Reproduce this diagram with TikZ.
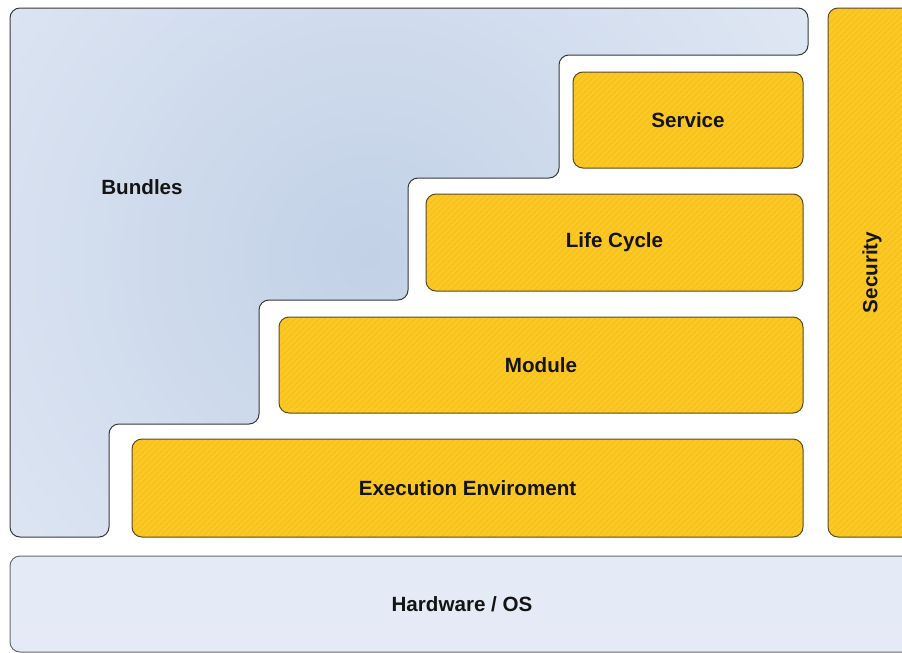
\documentclass[tikz,border=0pt]{standalone}
\usepackage{fontspec}
\setmainfont{Liberation Sans}
\usetikzlibrary{patterns.meta}

\definecolor{bundlelight}{HTML}{E6ECF6}
\definecolor{bundledark}{HTML}{C2D1E7}
\definecolor{bundleedge}{HTML}{3A3A3A}
\definecolor{layerfill}{HTML}{FCC823}
\definecolor{layerstripe}{HTML}{F3BD1C}
\definecolor{layeredge}{HTML}{5A4A22}
\definecolor{hwfill}{HTML}{E4EBF6}
\definecolor{hwedge}{HTML}{6A6A6A}
\definecolor{labeltext}{HTML}{141414}

\tikzset{
  labelfont/.style={font=\fontsize{20.6}{23}\selectfont\bfseries, text=labeltext},
  layer/.style={labelfont, draw=layeredge, line width=1pt, rounded corners=10pt,
    preaction={fill=layerfill},
    pattern={Lines[angle=45, distance=4pt, line width=1.1pt]},
    pattern color=layerstripe,
    inner sep=0pt},
  hwbox/.style={labelfont, draw=hwedge, line width=1pt, rounded corners=10pt,
    fill=hwfill, inner sep=0pt},
}

\begin{document}
\begin{tikzpicture}[x=1pt, y=-1pt]
  \useasboundingbox (0,0) rectangle (902,653);
  \clip (0,0) rectangle (902,653);
  \fill[white] (0,0) rectangle (902,653);

  % staircase outline of the bundle area
  \def\bundlepath{(10,8) -- (808,8) -- (808,55) -- (559,55) -- (559,178)
    -- (408,178) -- (408,300) -- (259,300) -- (259,424) -- (109,424)
    -- (109,537) -- (10,537) -- cycle}
  \begin{scope}
    \clip[rounded corners=10pt] \bundlepath;
    \fill[bundlelight] (0,0) rectangle (902,653);
    \shade[inner color=bundledark, outer color=bundlelight] (370,258) circle (620);
  \end{scope}
  \draw[bundleedge, line width=1pt, rounded corners=10pt] \bundlepath;
  \node[labelfont] (bundles) at (142,187) {Bundles};

  % framework layers
  \node[layer, minimum width=230pt, minimum height=96pt] (service) at (688,120) {Service};
  \node[layer, minimum width=377pt, minimum height=97pt] (lifecycle) at (614.5,242.5) {Life Cycle};
  \node[layer, minimum width=524pt, minimum height=96pt] (module) at (541,365) {Module};
  \node[layer, minimum width=671pt, minimum height=98pt] (exec) at (467.5,488) {Execution Enviroment};

  % security column
  \node[layer, rotate=90, minimum width=529pt, minimum height=88pt] (security) at (872,272.5) {Security};

  % platform base
  \node[hwbox, minimum width=904pt, minimum height=96pt] (hw) at (462,604) {Hardware / OS};
\end{tikzpicture}
\end{document}
